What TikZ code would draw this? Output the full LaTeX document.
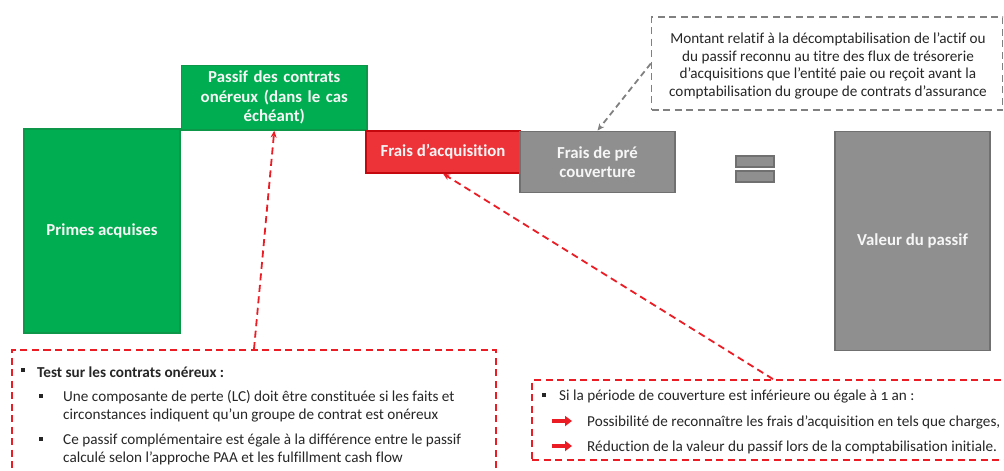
\documentclass[tikz,border=0pt]{standalone}
\usepackage{fontspec}
\setmainfont{Carlito}[Numbers=OldStyle, Ligatures=NoCommon]
\usetikzlibrary{arrows.meta,calc}
\definecolor{pgreen}{RGB}{0,173,80}
\definecolor{pgreenline}{RGB}{12,152,72}
\definecolor{pred}{RGB}{237,50,56}
\definecolor{predline}{RGB}{196,8,14}
\definecolor{pgray}{RGB}{143,143,143}
\definecolor{pgrayline}{RGB}{112,112,112}
\definecolor{dashred}{RGB}{236,28,36}
\definecolor{dashgray}{RGB}{128,128,128}
\definecolor{bodytext}{RGB}{38,38,38}
\definecolor{boxtext}{RGB}{246,246,246}
\begin{document}
\begin{tikzpicture}[x=1pt,y=-1pt,
  block/.style={draw, line width=1.3pt, inner sep=0pt, align=center,
    text=boxtext, font=\bfseries\fontsize{16.8}{19.5}\selectfont},
  greenblock/.style={block, fill=pgreen, draw=pgreenline},
  redblock/.style={block, fill=pred, draw=predline},
  grayblock/.style={block, fill=pgray, draw=pgrayline},
  eqbar/.style={draw=pgrayline, fill=pgray, line width=1.2pt, inner sep=0pt,
    minimum width=38pt, minimum height=11pt},
  redframe/.style={draw=dashred, line width=1.8pt, dash pattern=on 7pt off 4.5pt},
  grayframe/.style={draw=dashgray, line width=1.4pt, dash pattern=on 7pt off 4.5pt},
  redlink/.style={draw=dashred, line width=1.8pt, dash pattern=on 7pt off 4.5pt,
    -{Stealth[length=7pt,width=6pt]}},
  graylink/.style={draw=dashgray, line width=1.8pt, dash pattern=on 6pt off 4pt,
    -{Stealth[length=7pt,width=6pt]}},
  bodyline/.style={anchor=base west, inner sep=0pt, text=bodytext,
    font=\fontsize{15.2}{18}\selectfont},
  sqbullet/.style={fill=bodytext, inner sep=0pt, minimum size=4pt},
  fatarrow/.style={draw=dashred, line width=3.5pt, -{Triangle[length=7pt,width=10pt]}}]
\useasboundingbox (0,0) rectangle (1004,471);
\clip (0,0) rectangle (1004,471);

% balance blocks
\node[greenblock, minimum width=156pt, minimum height=204pt] (primes) at (102,231) {Primes acquises};
\node[greenblock, minimum width=185.5pt, minimum height=64.5pt, text width=175pt] (passif) at (274.25,97.75) {Passif des contrats\\ onéreux (dans le cas\\ échéant)};
\node[redblock, minimum width=154pt, minimum height=42pt] (acq) at (443,152) {Frais d’acquisition};
\node[grayblock, minimum width=155pt, minimum height=61.5pt] (pre) at (597.5,162) {Frais de pré\\ couverture};
\node[eqbar] (eqtop) at (755,161.5) {};
\node[eqbar] (eqbot) at (755,176.5) {};
\node[grayblock, minimum width=155pt, minimum height=219.5pt] (valeur) at (912.5,241) {Valeur du passif};

% note on the pre-coverage costs
\node[grayframe, minimum width=351pt, minimum height=93pt] (note) at (827,63.5) {};
\node[align=center, inner sep=0pt, text=bodytext, font=\fontsize{15.2}{17.7}\selectfont] (notetext) at (828,66)
  {Montant relatif à la décomptabilisation de l'actif ou\\
   du passif reconnu au titre des flux de trésorerie\\
   d’acquisitions que l'entité paie ou reçoit avant la\\
   comptabilisation du groupe de contrats d'assurance};
\draw[graylink] (note.west) -- (pre.north);

% onerous contracts test
\node[redframe, minimum width=484pt, minimum height=140pt] (testbox) at (254,420) {};
\node[sqbullet] (b1) at (23,370) {};
\node[bodyline, font=\bfseries\fontsize{15.2}{18}\selectfont] (t1) at (37,377) {Test sur les contrats onéreux :};
\node[sqbullet] (b2) at (41,396) {};
\node[bodyline] (t2a) at (63,401.5) {Une composante de perte (LC) doit être constituée si les faits et};
\node[bodyline] (t2b) at (63,419) {circonstances indiquent qu’un groupe de contrat est onéreux};
\node[sqbullet] (b3) at (41,439) {};
\node[bodyline] (t3a) at (63,444.5) {Ce passif complémentaire est égale à la différence entre le passif};
\node[bodyline] (t3b) at (63,462) {calculé selon l’approche PAA et les fulfillment cash flow};
\draw[redlink] (testbox.north) -- (passif.south);

% short coverage period
\node[redframe, minimum width=482pt, minimum height=80pt] (shortbox) at (773,420) {};
\node[sqbullet] (b4) at (544,395) {};
\node[bodyline] (t4) at (559,400) {Si la période de couverture est inférieure ou égale à 1 an :};
\coordinate (a1s) at (552,421);
\coordinate (a1e) at (572,421);
\coordinate (a2s) at (552,446);
\coordinate (a2e) at (572,446);
\draw[fatarrow] (a1s) -- (a1e);
\draw[fatarrow] (a2s) -- (a2e);
\node[bodyline] (t5) at (587,426) {Possibilité de reconnaître les frais d’acquisition en tels que charges,};
\node[bodyline] (t6) at (587,451) {Réduction de la valeur du passif lors de la comptabilisation initiale.};
\draw[redlink] (shortbox.north) -- (acq.south);
\end{tikzpicture}
\end{document}
